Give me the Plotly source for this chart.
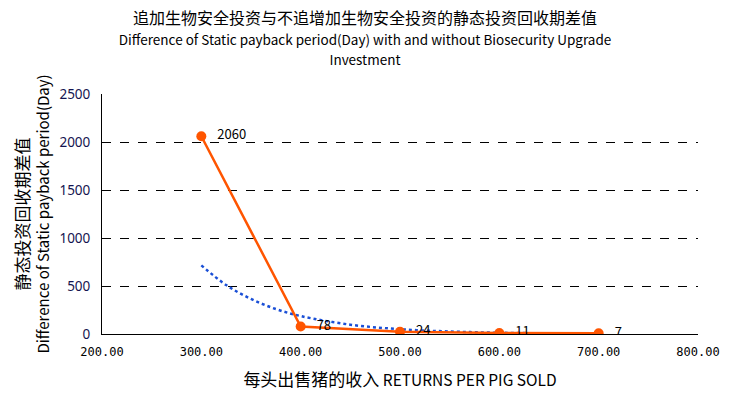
import plotly.graph_objects as go

returns = [300, 400, 500, 600, 700]
payback_diff = [2060, 78, 24, 11, 7]
data_labels = ["2060", "78", "24", "11", "7"]

# trendline values (dotted blue)
trend_x = [300, 325, 350, 375, 400, 450, 500, 550, 600, 650, 700]
trend_y = [715, 510, 365, 260, 187, 97, 50, 26, 13, 7, 4]

CJK = "Noto Sans CJK SC"

fig = go.Figure()
fig.add_trace(go.Scatter(
    x=trend_x, y=trend_y, mode="lines", line=dict(color="#1a4fd6", width=2.5, dash="dot", shape="spline"),
    hoverinfo="skip", showlegend=False))
fig.add_trace(go.Scatter(
    x=returns, y=payback_diff, mode="lines+markers+text",
    line=dict(color="#FF5500", width=2.5),
    marker=dict(color="#FF5500", size=10),
    text=["   " + t for t in data_labels], textposition="middle right",
    textfont=dict(family=CJK, size=13, color="black"),
    showlegend=False))

fig.update_layout(
    width=730, height=397,
    margin=dict(l=102, r=32, t=94, b=63),
    plot_bgcolor="white", paper_bgcolor="white",
    title=dict(
        text="追加生物安全投资与不追增加生物安全投资的静态投资回收期差值<br>"
             "<span style='font-size:13.5px'>Difference of Static payback period(Day) with and without Biosecurity Upgrade<br>Investment</span>",
        x=0.5, xanchor="center", y=0.94, yanchor="top",
        font=dict(family=CJK, size=16, color="black")),
    xaxis=dict(
        range=[200, 800], dtick=100, tick0=200, tickformat=".2f", automargin=False,
        showgrid=False, zeroline=False, showline=True, linecolor="black", linewidth=1,
        ticklabelstandoff=7,
        tickfont=dict(family="DejaVu Sans Mono", size=12, color="black"),
        title=dict(text="<span style='font-size:17px'>每头出售猪的收入</span> RETURNS PER PIG SOLD",
                   font=dict(family=CJK, size=15.5, color="black"), standoff=16)),
    yaxis=dict(
        range=[0, 2500], dtick=500, automargin=False,
        showgrid=True, gridcolor="black", gridwidth=1, griddash="dash",
        zeroline=False, showline=True, linecolor="black", linewidth=1,
        ticklabelstandoff=8,
        tickfont=dict(family="Noto Sans", size=13.5, color="#141450"),
        title=dict(text="<span style='font-size:17px'>静态投资回收期差值</span><br>Difference of Static payback period(Day)",
                   font=dict(family=CJK, size=15, color="black"), standoff=6)),
)

fig.write_html("out.html", config={"displayModeBar": False},
               post_script="document.body.style.margin='0';")
